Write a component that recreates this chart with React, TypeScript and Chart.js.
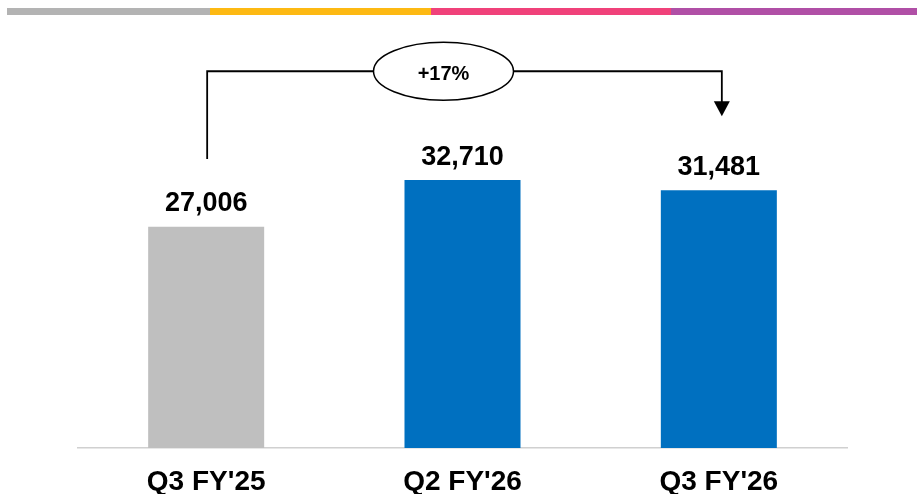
import React, { useEffect, useRef } from "react";
import { Chart, registerables } from "chart.js";

Chart.register(...registerables);

const categories = ["Q3 FY'25", "Q2 FY'26", "Q3 FY'26"];
const values = [27006, 32710, 31481];
const barColors = ["#bfbfbf", "#0070c0", "#0070c0"];
const growthLabel = "+17%";
const stripeColors = ["#b3b3b3", "#fdb913", "#f0417a", "#b04fa6"];
const stripeStops = [7, 210, 431, 671, 917];

const FONT = "'Liberation Sans', Arial, sans-serif";

const decorPlugin = {
  id: "decor",
  beforeDraw(chart: any) {
    const ctx = chart.ctx;
    ctx.save();
    ctx.fillStyle = "#ffffff";
    ctx.fillRect(0, 0, chart.width, chart.height);
    for (let i = 0; i < stripeColors.length; i++) {
      ctx.fillStyle = stripeColors[i];
      ctx.fillRect(stripeStops[i], 8, stripeStops[i + 1] - stripeStops[i], 7);
    }
    ctx.restore();
  },
  afterDatasetsDraw(chart: any) {
    const ctx = chart.ctx;
    const meta = chart.getDatasetMeta(0);
    const yScale = chart.scales.y;
    ctx.save();
    // value labels
    ctx.fillStyle = "#000000";
    ctx.font = `bold 27px ${FONT}`;
    ctx.textAlign = "center";
    ctx.textBaseline = "alphabetic";
    meta.data.forEach((bar: any, i: number) => {
      ctx.fillText(values[i].toLocaleString("en-US"), bar.x, bar.y - 15.5);
    });
    // growth bracket
    const x0 = meta.data[0].x + 1;
    const x2 = meta.data[2].x + 3;
    const yTop = yScale.getPixelForValue(46000);
    const yStart = yScale.getPixelForValue(35300);
    const yTip = yScale.getPixelForValue(40500);
    ctx.strokeStyle = "#000000";
    ctx.lineWidth = 1.8;
    ctx.beginPath();
    ctx.moveTo(x0, yStart);
    ctx.lineTo(x0, yTop);
    ctx.lineTo(x2, yTop);
    ctx.lineTo(x2, yTip - 14);
    ctx.stroke();
    ctx.fillStyle = "#000000";
    ctx.beginPath();
    ctx.moveTo(x2 - 8, yTip - 15);
    ctx.lineTo(x2 + 8, yTip - 15);
    ctx.lineTo(x2, yTip);
    ctx.closePath();
    ctx.fill();
    // ellipse
    const cx = (x0 + x2) / 2 - 21;
    ctx.beginPath();
    ctx.ellipse(cx, yTop, 70, 29, 0, 0, Math.PI * 2);
    ctx.fillStyle = "#ffffff";
    ctx.fill();
    ctx.lineWidth = 1.5;
    ctx.stroke();
    ctx.fillStyle = "#000000";
    ctx.font = `bold 20px ${FONT}`;
    ctx.textBaseline = "middle";
    ctx.fillText(growthLabel, cx, yTop + 3);
    ctx.restore();
  },
};

export default function App() {
  const ref = useRef<HTMLCanvasElement | null>(null);
  useEffect(() => {
    if (!ref.current) return;
    const chart = new Chart(ref.current, {
      type: "bar",
      data: {
        labels: categories,
        datasets: [
          {
            data: values,
            backgroundColor: barColors,
            borderWidth: 0,
            categoryPercentage: 1,
            barPercentage: 0.4526,
          },
        ],
      },
      options: {
        animation: false,
        responsive: false,
        maintainAspectRatio: false,
        layout: { padding: { left: 78, right: 70, top: 38.5, bottom: 0 } },
        plugins: { legend: { display: false }, tooltip: { enabled: false } },
        scales: {
          x: {
            grid: { display: false, drawTicks: false },
            border: { display: true, color: "#d0d0d0", width: 1.5 },
            ticks: {
              padding: 17,
              color: "#000000",
              font: { family: FONT, size: 28, weight: "bold" },
              maxRotation: 0,
              autoSkip: false,
            },
            afterFit: (scale: any) => {
              scale.height = 46;
            },
          },
          y: {
            display: false,
            min: 0,
            max: 50000,
          },
        },
      },
      plugins: [decorPlugin],
    });
    return () => chart.destroy();
  }, []);
  return (
    <div style={{ position: "absolute", left: 0, top: 0, width: 917, height: 494 }}>
      <canvas ref={ref} width={917} height={494} style={{ width: 917, height: 494 }} />
    </div>
  );
}
